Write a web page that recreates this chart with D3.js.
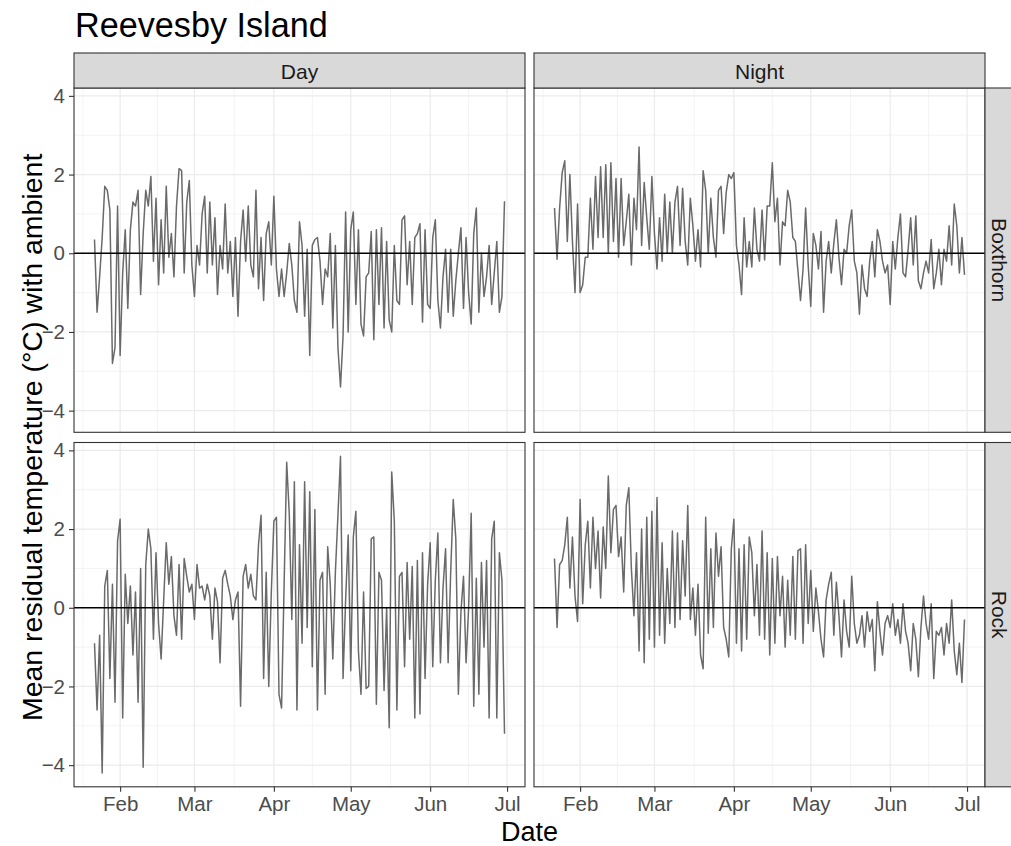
<!DOCTYPE html>
<html>
<head>
<meta charset="utf-8">
<script src="https://cdn.jsdelivr.net/npm/d3@7"></script>
<style>
  body { margin: 0; background: #fff; }
  text { font-family: "Liberation Sans", Arial, Helvetica, sans-serif; }
</style>
</head>
<body>
<svg id="chart" width="1011" height="846"></svg>
<script>
// ---- data (one value per day from 22 Jan 2020) ----
const periods = ["Day", "Night"];
const habitats = ["Boxthorn", "Rock"];
const firstDate = "2020-01-22";
const monthLabels = ["Feb", "Mar", "Apr", "May", "Jun", "Jul"];
const yTicks = [-4, -2, 0, 2, 4];

const dayBoxthorn = [
  0.35, -1.5, -0.6, 0.4, 1.7, 1.6, 1.1, -2.8, -2.4, 1.2,
  -2.6, -0.5, 0.6, -1.4, 0.6, 1.3, 1.2, 1.6, -1.05, 0.5,
  1.6, 1.2, 1.95, -0.2, 1.4, -0.8, 0.85, -0.5, 1.7, -0.1,
  0.5, -0.6, 1.2, 2.15, 2.1, -0.5, 1.3, 1.85, -0.3, -1.1,
  0.2, -0.3, 1.0, 1.45, -0.5, 1.3, -0.3, 0.9, -1.05, 0.2,
  -0.4, 1.25, -0.5, 0.3, -1.1, 0.4, -1.6, 0.3, 1.1, -0.2,
  1.2, -0.3, -0.6, 1.6, -0.9, 0.4, -1.2, 0.5, 0.8, -0.3,
  1.45, -0.4, -1.1, -0.4, -1.1, -0.5, 0.25, -0.3, -1.2, -1.5,
  0.8, 0.2, -1.6, 0.1, -2.6, 0.2, 0.35, 0.4, -0.2, -1.3,
  -0.4, -0.6, 0.5, -1.9, 0.2, -2.4, -3.4, -2.1, 1.05, -2.0,
  0.6, 1.05, -1.3, 0.6, -1.8, -2.1, -0.6, -0.5, 0.55, -2.2,
  0.6, -1.3, 0.65, -1.9, 0.3, -1.7, -2.0, 0.2, -1.2, -1.3,
  0.85, 0.95, -0.8, 0.3, -1.3, 0.4, 0.5, 0.75, -1.75, 0.6,
  -1.3, -1.4, 0.4, 0.85, -1.2, -1.9, -0.6, 0.1, -1.5, 0.1,
  -1.6, -0.7, 0.0, 0.65, -1.4, 0.4, -1.0, -1.8, 0.5, 1.15,
  -1.5, 0.0, -1.1, -0.6, 0.2, -1.3, -0.5, 0.3, -1.5, -1.1,
  1.32
];
const nightBoxthorn = [
  1.15, -0.15, 1.15, 2.05, 2.35, 0.3, 2.0, 0.3, -1.0, 1.25,
  -1.0, -0.8, -0.1, -0.1, 1.4, 0.1, 1.95, 0.4, 2.2, 0.4,
  2.25, 0.0, 2.3, 0.3, 1.9, -0.1, 1.9, 0.2, 0.8, 1.5,
  -0.3, 1.4, 0.6, 2.7, 0.2, 1.8, 0.9, 0.1, 1.95, 0.5,
  -0.4, 0.9, -0.2, 1.5, 0.0, 1.3, 0.0, 1.3, 1.7, 0.2,
  1.65, 0.3, -0.3, 1.4, 0.7, -0.2, 0.6, -0.35, 2.1, 1.6,
  0.0, 1.4, 0.4, -0.1, 1.6, 1.7, 0.5, 1.55, 2.0, 1.9,
  2.05, 0.2, -0.3, -1.05, 0.9, -0.35, 0.3, -0.35, 1.15, 0.1,
  -0.2, 1.1, -0.17, 1.2, 1.2, 2.3, 0.8, 1.4, -0.3, 0.8,
  0.7, 1.6, 1.3, 0.4, 0.3, -0.45, -1.2, -0.4, 1.15, -0.3,
  -1.35, 0.5, 0.2, -0.4, 0.55, -1.5, -0.2, 0.3, -0.5, 0.25,
  0.85, -0.1, -0.8, 0.1, 0.0, 0.7, 1.1, -0.2, -0.5, -1.55,
  -0.3, -0.9, -1.1, -0.2, 0.3, -0.6, 0.6, 0.3, -0.2, -0.5,
  -0.3, -1.3, 0.3, -0.4, 0.4, 1.0, -0.5, -0.6, 0.1, 0.9,
  -0.3, 0.95, -0.7, -0.9, -0.5, -0.2, -0.5, 0.35, -0.9, -0.5,
  0.1, -0.8, 0.1, -0.2, 0.7, -0.3, 1.25, 0.7, -0.5, 0.4,
  -0.55
];
const dayRock = [
  -0.9, -2.6, -0.7, -4.2, 0.55, 0.95, -1.8, 0.6, -2.4, 1.7,
  2.25, -2.8, 0.85, -0.4, 0.55, -1.2, 0.4, -2.4, 1.0, -4.05,
  1.1, 2.0, 1.5, -0.8, 1.4, -0.4, -1.3, 0.2, 1.65, 0.6,
  1.3, -0.2, -0.7, 1.1, -0.8, 1.25, 0.8, 0.4, 0.6, -0.3,
  1.1, 0.5, 0.55, 0.2, 0.6, 0.3, -0.8, 0.5, 0.15, -1.4,
  0.75, 0.95, 0.6, 0.3, -0.3, 0.2, 0.4, -2.5, 0.8, 1.1,
  0.5, 0.85, 0.3, 0.2, 1.6, 2.35, -1.8, 0.9, -2.0, 0.4,
  2.2, 2.3, -2.2, -2.55, 0.6, 3.7, 2.4, -0.3, 3.2, -2.6,
  1.6, -0.9, 3.2, -0.5, 2.95, -1.5, 2.5, -2.6, 0.7, 0.9,
  -2.2, 1.55, 0.6, -1.3, 0.9, 2.35, 3.85, -1.8, 0.2, 1.85,
  -1.6, 1.8, 2.45, -1.1, -2.2, 0.4, -2.05, -2.0, 1.75, 1.8,
  -2.45, 0.9, 0.7, -2.1, 0.0, -3.05, 3.45, 2.2, -2.6, 0.8,
  0.9, -1.5, 1.15, -0.8, 1.05, -2.8, 1.2, -2.7, 1.4, -1.8,
  0.6, 1.65, -1.5, 0.7, 1.9, -1.4, 0.5, 1.5, -1.4, 0.9,
  2.75, 1.75, -2.2, -0.1, 0.8, -1.4, 0.0, 2.4, -2.5, 0.75,
  -2.2, 1.15, -1.0, 1.2, -2.8, 1.75, 2.2, -2.8, 1.4, 0.7,
  -3.2
];
const nightRock = [
  1.25, -0.5, 1.1, 1.2, 1.6, 2.3, 0.5, 1.8, 0.3, -0.35,
  2.75, 0.1, 1.6, 2.2, 0.5, 2.3, 1.0, 1.95, 0.25, 2.05,
  1.0, 3.35, 1.4, 2.5, 2.6, 1.3, 1.8, 0.4, 2.6, 3.05,
  1.0, -0.2, 1.4, -1.1, 2.0, -1.4, 2.3, -0.8, 2.45, -1.0,
  2.8, -0.7, 1.65, -0.9, 1.0, -0.4, 1.95, -0.5, 1.9, -0.3,
  1.7, 0.3, 2.6, -0.3, 0.5, -0.7, 0.6, -1.2, -1.55, 2.3,
  -0.65, 1.5, -0.5, 1.9, 0.8, 1.55, -0.5, -0.8, -1.25, 1.5,
  2.25, -0.9, 1.5, -1.1, 1.6, -0.8, 1.8, 1.4, -0.2, 1.1,
  -0.7, 1.95, -0.8, 1.4, -1.2, 1.25, -0.9, 1.3, -0.2, 0.8,
  -1.0, 0.7, -0.7, 1.3, -0.8, 1.45, 1.5, -0.9, 1.6, -0.4,
  0.95, -0.6, 0.5, -0.1, -0.8, -1.25, 0.2, 0.6, 0.9, -0.7,
  0.65, -0.2, -1.25, 0.2, -0.6, -1.0, 0.8, -0.4, -0.9, -0.7,
  -0.2, -1.0, -0.1, -0.6, -0.3, -1.6, 0.15, -0.6, -1.2, -0.4,
  -0.2, -0.5, 0.1, -0.7, -0.3, -0.9, 0.1, -0.6, -0.9, -1.6,
  -0.4, -0.8, -1.75, -0.5, 0.3, -0.4, -0.8, 0.1, -1.8, -0.6,
  -0.7, -0.5, -1.2, -0.4, -0.9, 0.2, -1.1, -1.7, -0.9, -1.9,
  -0.3
];

const series = {
  Boxthorn: { Day: dayBoxthorn, Night: nightBoxthorn },
  Rock: { Day: dayRock, Night: nightRock }
};

// ---- layout ----
const colX = [74, 534];
const rowY = [88, 442.5];
const pw = 451, ph = 344.3;
const gridCol = "#ebebeb", frameCol = "#333333";

const svg = d3.select("#chart");

const start = d3.utcParse("%Y-%m-%d")(firstDate);
const dates = dayBoxthorn.map((d, i) => d3.utcDay.offset(start, i));
const ext = d3.extent(dates);
const pad = (ext[1] - ext[0]) * 0.05;
const x = d3.scaleUtc()
  .domain([new Date(+ext[0] - pad), new Date(+ext[1] + pad)])
  .range([0, pw]);
const y = d3.scaleLinear().domain([-4.55, 4.2]).range([ph, 0]);

const months = d3.utcMonth.range(x.domain()[0], x.domain()[1]);
const xMinor = months.slice(1).map((m, i) => new Date((+m + +months[i]) / 2));
xMinor.unshift(new Date(+months[0] - (months[1] - months[0]) / 2));
const yMinor = [-3, -1, 1, 3];

const line = d3.line()
  .x((d, i) => x(dates[i]))
  .y(d => y(d));

habitats.forEach((hab, r) => {
  periods.forEach((per, c) => {
    const g = svg.append("g").attr("transform", `translate(${colX[c]},${rowY[r]})`);

    g.append("rect").attr("width", pw).attr("height", ph).attr("fill", "#fff");

    // minor grid
    g.selectAll(".xmin").data(xMinor.filter(d => x(d) > 0 && x(d) < pw)).enter()
      .append("line")
      .attr("x1", d => x(d)).attr("x2", d => x(d))
      .attr("y1", 0).attr("y2", ph)
      .attr("stroke", gridCol).attr("stroke-width", 0.6);
    g.selectAll(".ymin").data(yMinor).enter()
      .append("line")
      .attr("x1", 0).attr("x2", pw)
      .attr("y1", d => y(d)).attr("y2", d => y(d))
      .attr("stroke", gridCol).attr("stroke-width", 0.6);
    // major grid
    g.selectAll(".xmaj").data(months).enter()
      .append("line")
      .attr("x1", d => x(d)).attr("x2", d => x(d))
      .attr("y1", 0).attr("y2", ph)
      .attr("stroke", gridCol).attr("stroke-width", 1.2);
    g.selectAll(".ymaj").data(yTicks).enter()
      .append("line")
      .attr("x1", 0).attr("x2", pw)
      .attr("y1", d => y(d)).attr("y2", d => y(d))
      .attr("stroke", gridCol).attr("stroke-width", 1.2);

    g.append("path")
      .datum(series[hab][per])
      .attr("d", line)
      .attr("fill", "none")
      .attr("stroke", "#6a6a6a")
      .attr("stroke-width", 1.5)
      .attr("stroke-linejoin", "round");

    g.append("line")
      .attr("x1", 0).attr("x2", pw)
      .attr("y1", y(0)).attr("y2", y(0))
      .attr("stroke", "#000").attr("stroke-width", 1.6);

    g.append("rect").attr("width", pw).attr("height", ph)
      .attr("fill", "none").attr("stroke", frameCol).attr("stroke-width", 1.1);

    // y axis on the left column
    if (c === 0) {
      const ya = g.append("g")
        .call(d3.axisLeft(y).tickValues(yTicks).tickSize(5).tickPadding(4)
          .tickFormat(d => d < 0 ? "\u2212" + Math.abs(d) : d));
      ya.select(".domain").remove();
      ya.selectAll("line").attr("stroke", frameCol).attr("stroke-width", 1.1);
      ya.selectAll("text").attr("fill", "#4d4d4d").attr("font-size", 20.5)
        .attr("font-family", null);
    }
    // x axis on the bottom row
    if (r === habitats.length - 1) {
      const xa = g.append("g").attr("transform", `translate(0,${ph})`)
        .call(d3.axisBottom(x).tickValues(months).tickSize(5).tickPadding(4.6)
          .tickFormat((d, i) => monthLabels[i]));
      xa.select(".domain").remove();
      xa.selectAll("line").attr("stroke", frameCol).attr("stroke-width", 1.1);
      xa.selectAll("text").attr("fill", "#4d4d4d").attr("font-size", 20.5)
        .attr("font-family", null);
    }
  });
});

// top strips
periods.forEach((per, c) => {
  svg.append("rect")
    .attr("x", colX[c]).attr("y", 53).attr("width", pw).attr("height", rowY[0] - 53)
    .attr("fill", "#d9d9d9").attr("stroke", frameCol).attr("stroke-width", 1.1);
  svg.append("text")
    .attr("x", colX[c] + pw / 2).attr("y", 79)
    .attr("text-anchor", "middle").attr("font-size", 21).attr("fill", "#1a1a1a")
    .text(per);
});

// right strips
const sx = colX[1] + pw;
habitats.forEach((hab, r) => {
  svg.append("rect")
    .attr("x", sx).attr("y", rowY[r]).attr("width", 30).attr("height", ph)
    .attr("fill", "#d9d9d9").attr("stroke", frameCol).attr("stroke-width", 1.1);
  svg.append("text")
    .attr("transform", `translate(${sx + 7},${rowY[r] + ph / 2}) rotate(90)`)
    .attr("text-anchor", "middle").attr("font-size", 21).attr("fill", "#1a1a1a")
    .text(hab);
});

// titles
svg.append("text").attr("x", 75).attr("y", 37)
  .attr("font-size", 34.2).attr("fill", "#000").text("Reevesby Island");

svg.append("text")
  .attr("x", (colX[0] + colX[1] + pw) / 2).attr("y", 841)
  .attr("text-anchor", "middle").attr("font-size", 27).attr("fill", "#000")
  .text("Date");

svg.append("text")
  .attr("transform", `translate(42,${(rowY[0] + rowY[1] + ph) / 2}) rotate(-90)`)
  .attr("text-anchor", "middle").attr("font-size", 28.5).attr("fill", "#000")
  .text("Mean residual temperature (\u00b0C) with ambient");
</script>
</body>
</html>
